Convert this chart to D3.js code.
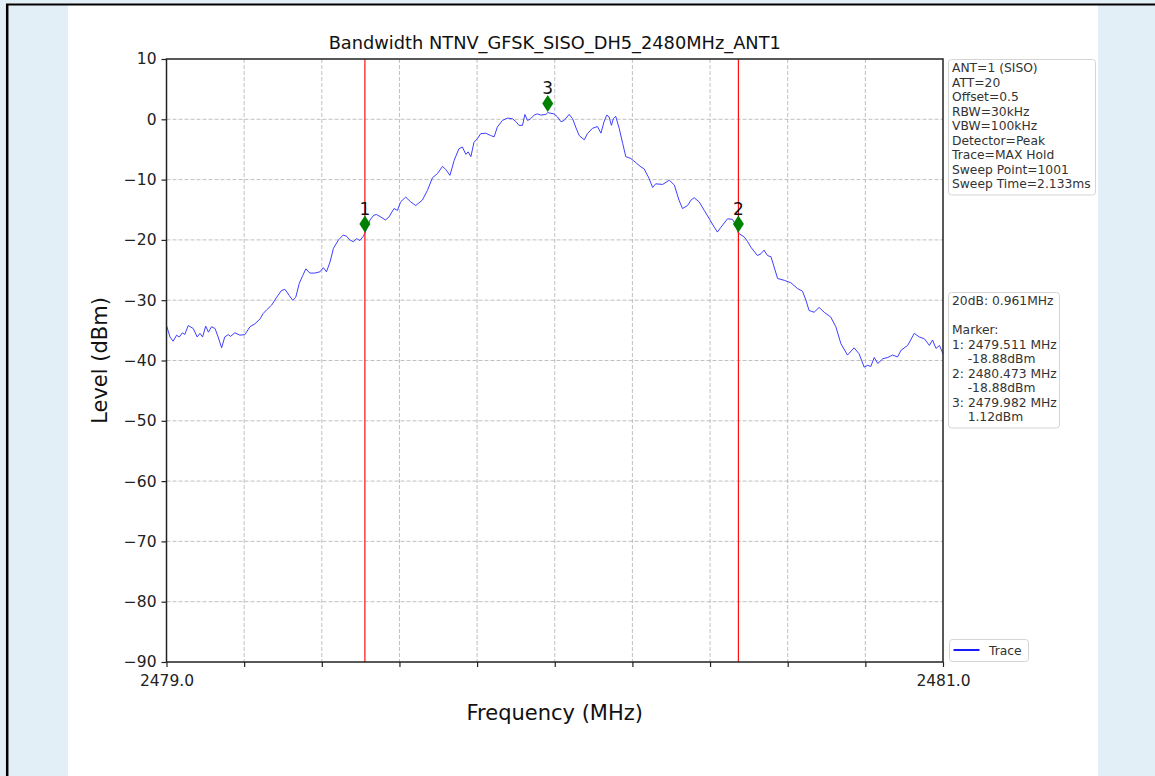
<!DOCTYPE html>
<html lang="en">
<head>
<meta charset="utf-8">
<title>Bandwidth NTNV_GFSK_SISO_DH5_2480MHz_ANT1</title>
<script src="https://d3js.org/d3.v7.min.js"></script>
<style type="text/css">
body {
	margin: 0;
	font-family: "DejaVu Sans", sans-serif;
}
</style>
</head>
<body>
<script type="text/javascript">

// Trace (MHz, dBm)
var traceFreq = [
  2479.000, 2479.009, 2479.017, 2479.026, 2479.033, 2479.041, 2479.047, 2479.056, 2479.069, 2479.079,
  2479.086, 2479.093, 2479.101, 2479.108, 2479.116, 2479.125, 2479.133, 2479.142, 2479.150, 2479.159,
  2479.165, 2479.176, 2479.189, 2479.202, 2479.215, 2479.228, 2479.241, 2479.249, 2479.258, 2479.271,
  2479.284, 2479.296, 2479.305, 2479.316, 2479.325, 2479.333, 2479.342, 2479.351, 2479.359, 2479.369,
  2479.382, 2479.395, 2479.404, 2479.412, 2479.421, 2479.430, 2479.443, 2479.455, 2479.464, 2479.472,
  2479.481, 2479.490, 2479.498, 2479.507, 2479.511, 2479.524, 2479.534, 2479.541, 2479.552, 2479.564,
  2479.573, 2479.586, 2479.595, 2479.603, 2479.616, 2479.629, 2479.642, 2479.659, 2479.672, 2479.685,
  2479.698, 2479.711, 2479.719, 2479.730, 2479.741, 2479.753, 2479.762, 2479.771, 2479.777, 2479.784,
  2479.792, 2479.801, 2479.809, 2479.822, 2479.835, 2479.844, 2479.852, 2479.865, 2479.878, 2479.891,
  2479.900, 2479.908, 2479.917, 2479.923, 2479.930, 2479.938, 2479.947, 2479.955, 2479.964, 2479.977,
  2479.982, 2479.998, 2480.007, 2480.016, 2480.024, 2480.037, 2480.046, 2480.054, 2480.063, 2480.076,
  2480.084, 2480.097, 2480.110, 2480.119, 2480.127, 2480.134, 2480.140, 2480.146, 2480.151, 2480.157,
  2480.166, 2480.175, 2480.183, 2480.196, 2480.209, 2480.222, 2480.230, 2480.243, 2480.252, 2480.260,
  2480.278, 2480.295, 2480.308, 2480.320, 2480.329, 2480.342, 2480.351, 2480.359, 2480.372, 2480.385,
  2480.398, 2480.411, 2480.419, 2480.428, 2480.445, 2480.458, 2480.467, 2480.473, 2480.488, 2480.497,
  2480.505, 2480.522, 2480.531, 2480.539, 2480.548, 2480.557, 2480.565, 2480.574, 2480.591, 2480.608,
  2480.626, 2480.638, 2480.647, 2480.655, 2480.668, 2480.681, 2480.694, 2480.711, 2480.724, 2480.737,
  2480.754, 2480.771, 2480.784, 2480.797, 2480.806, 2480.814, 2480.823, 2480.832, 2480.845, 2480.858,
  2480.870, 2480.883, 2480.892, 2480.909, 2480.926, 2480.939, 2480.952, 2480.965, 2480.973, 2480.982,
  2480.991, 2481.000
];
var traceLevel = [
  -34.2, -36.1, -36.8, -35.8, -36.1, -35.4, -35.7, -34.2, -34.7, -36.1,
  -35.5, -36.1, -34.3, -35.3, -34.4, -34.7, -36.1, -37.9, -36.1, -35.7,
  -36.0, -35.4, -35.8, -35.7, -34.4, -33.9, -33.1, -32.2, -31.6, -30.8,
  -29.5, -28.4, -28.2, -29.2, -30.0, -29.5, -27.2, -25.9, -24.8, -25.5,
  -25.5, -25.3, -24.6, -25.3, -23.7, -21.4, -20.0, -19.2, -19.4, -20.0,
  -20.3, -19.8, -20.1, -19.4, -18.9, -16.7, -15.9, -15.8, -16.2, -16.7,
  -16.2, -14.8, -15.1, -13.7, -12.9, -13.7, -14.3, -13.4, -11.8, -9.7,
  -9.0, -7.8, -8.3, -9.3, -6.8, -4.9, -4.6, -5.8, -5.4, -6.2,
  -3.8, -3.2, -2.4, -2.3, -2.7, -2.9, -1.3, -0.2, 0.2, 0.1,
  -0.4, -1.0, -1.0, 0.8, -0.2, 0.1, 0.7, 0.9, 0.7, 0.8,
  1.1, 0.9, 0.4, -0.4, -0.2, 0.8, 0.1, -1.3, -2.7, -3.4,
  -2.4, -1.5, -1.2, -2.3, -0.4, 0.7, 0.4, -1.0, 0.1, 0.5,
  -1.5, -4.0, -6.2, -6.5, -7.2, -7.9, -8.2, -9.8, -11.3, -10.7,
  -10.8, -10.1, -10.9, -13.4, -14.8, -14.3, -13.4, -13.0, -13.7, -15.1,
  -16.5, -17.9, -18.7, -17.9, -16.5, -16.6, -17.6, -18.9, -19.5, -20.3,
  -21.2, -22.6, -22.3, -21.7, -22.6, -22.8, -24.5, -26.4, -26.7, -27.1,
  -28.1, -28.5, -30.0, -31.7, -32.0, -31.2, -32.0, -32.8, -34.4, -37.2,
  -39.1, -37.9, -38.9, -41.1, -40.8, -41.0, -39.5, -40.5, -39.7, -39.5,
  -39.1, -39.4, -38.3, -37.5, -35.5, -36.1, -36.4, -37.5, -36.6, -38.0,
  -37.5, -38.9
];

// Markers
var markerNames = ["1", "2", "3"];
var markerFreq = [2479.511, 2480.473, 2479.982];
var markerLevel = [-18.88, -18.88, 1.12];
var edgeFreq = [2479.511, 2480.473];   // red lines at the 20 dB edges

// Axis ticks
var xTicks = [2479.0, 2479.2, 2479.4, 2479.6, 2479.8, 2480.0, 2480.2, 2480.4, 2480.6, 2480.8, 2481.0];
var xTickLabels = ["2479.0", "", "", "", "", "", "", "", "", "", "2481.0"];
var yTicks = [10, 0, -10, -20, -30, -40, -50, -60, -70, -80, -90];

// Text boxes
var title = "Bandwidth NTNV_GFSK_SISO_DH5_2480MHz_ANT1";
var settingsLines = ["ANT=1 (SISO)", "ATT=20", "Offset=0.5", "RBW=30kHz", "VBW=100kHz",
  "Detector=Peak", "Trace=MAX Hold", "Sweep Point=1001", "Sweep Time=2.133ms"];
var resultLines = ["20dB: 0.961MHz", "", "Marker:", "1: 2479.511 MHz", "    -18.88dBm",
  "2: 2480.473 MHz", "    -18.88dBm", "3: 2479.982 MHz", "    1.12dBm"];
var legendLabels = ["Trace"];

const width = 1155;
const height = 776;
const plotLeft = 166.5, plotRight = 943, plotTop = 59, plotBottom = 662;
const markerLift = 1.5;   // diamonds sit a little above the trace
const lineGap = 14.5;

var xScale = d3.scaleLinear().domain([2479.0, 2481.0]).range([plotLeft, plotRight]);
var yScale = d3.scaleLinear().domain([-90, 10]).range([plotBottom, plotTop]);

var svg = d3.select("body")
  .append("svg")
  .attr("width", width)
  .attr("height", height);

// page background: blue margins, white sheet, black frame
svg.append("rect").attr("width", width).attr("height", height).style("fill", "#e3eff6");
svg.append("rect").attr("x", 68).attr("y", 5).attr("width", 1030).attr("height", height - 5).style("fill", "#fff");
svg.append("line").attr("x1", 6).attr("x2", width).attr("y1", 4.5).attr("y2", 4.5)
  .style("stroke", "#000").style("stroke-width", 2);
svg.append("line").attr("x1", 7.2).attr("x2", 7.2).attr("y1", 4).attr("y2", height)
  .style("stroke", "#000").style("stroke-width", 2.5);

// grid
var grid = svg.append("g")
  .attr("stroke", "#b0b0b0")
  .attr("stroke-width", 0.8)
  .attr("stroke-dasharray", "4,2");
grid.selectAll(".gx")
  .data(xTicks.slice(1, -1))
  .enter().append("line")
  .attr("class", "gx")
  .attr("x1", function(d) { return xScale(d); })
  .attr("x2", function(d) { return xScale(d); })
  .attr("y1", plotTop).attr("y2", plotBottom);
grid.selectAll(".gy")
  .data(yTicks.slice(1, -1))
  .enter().append("line")
  .attr("class", "gy")
  .attr("y1", function(d) { return yScale(d); })
  .attr("y2", function(d) { return yScale(d); })
  .attr("x1", plotLeft).attr("x2", plotRight);

// trace
var line = d3.line()
  .x(function(d, i) { return xScale(traceFreq[i]); })
  .y(function(d) { return yScale(d); });

svg.append("path")
  .datum(traceLevel)
  .attr("d", line)
  .attr("fill", "none")
  .attr("stroke", "#3f3fff")
  .attr("stroke-width", 1);

// red edge lines (slightly over 1px so they stay red once antialiased)
svg.append("g").selectAll(".edge")
  .data(edgeFreq)
  .enter().append("rect")
  .attr("class", "edge")
  .attr("x", function(d) { return xScale(d) - 0.6; })
  .attr("width", 1.2)
  .attr("y", plotTop)
  .attr("height", plotBottom - plotTop)
  .attr("fill", "#ff1010");

// markers
var marker = svg.append("g").selectAll(".marker")
  .data(markerNames)
  .enter().append("g")
  .attr("class", "marker")
  .attr("transform", function(d, i) {
    return "translate(" + xScale(markerFreq[i]) + "," + yScale(markerLevel[i] + markerLift) + ")";
  });
marker.append("path")
  .attr("d", "M0,-8.5L5.5,0L0,8.5L-5.5,0Z")
  .attr("fill", "#008000");
marker.append("text")
  .attr("y", -9.5)
  .attr("text-anchor", "middle")
  .style("font-size", "17px")
  .style("fill", "#111")
  .text(function(d) { return d; });

// axes
var xAxis = d3.axisBottom(xScale)
  .tickValues(xTicks)
  .tickSize(5)
  .tickPadding(8)
  .tickFormat(function(d, i) { return xTickLabels[i]; });
var yAxis = d3.axisLeft(yScale)
  .tickValues(yTicks)
  .tickSize(5)
  .tickPadding(5)
  .tickFormat(function(d) { return d3.format("d")(d).replace("-", "\u2212"); });

var gx = svg.append("g").attr("transform", "translate(0," + plotBottom + ")").call(xAxis);
var gy = svg.append("g").attr("transform", "translate(" + plotLeft + ",0)").call(yAxis);
[gx, gy].forEach(function(g) {
  g.select(".domain").remove();
  g.selectAll(".tick line").attr("stroke", "#222").attr("stroke-width", 1.2);
  g.selectAll(".tick text")
    .style("font-family", "DejaVu Sans")
    .style("font-size", "15.5px")
    .style("fill", "#222");
});

// frame around the plot
svg.append("rect")
  .attr("x", plotLeft).attr("y", plotTop)
  .attr("width", plotRight - plotLeft).attr("height", plotBottom - plotTop)
  .attr("fill", "none")
  .attr("stroke", "#222")
  .attr("stroke-width", 1.5);

// titles
svg.append("text")
  .attr("x", (plotLeft + plotRight) / 2).attr("y", 49)
  .attr("text-anchor", "middle")
  .style("font-size", "17.8px")
  .style("fill", "#111")
  .text(title);
svg.append("text")
  .attr("x", (plotLeft + plotRight) / 2).attr("y", 720)
  .attr("text-anchor", "middle")
  .style("font-size", "21px")
  .style("fill", "#111")
  .text("Frequency (MHz)");
svg.append("text")
  .attr("transform", "translate(107," + (plotTop + plotBottom) / 2 + ") rotate(-90)")
  .attr("text-anchor", "middle")
  .style("font-size", "21px")
  .style("fill", "#111")
  .text("Level (dBm)");

// side boxes
function textBox(x, y, w, lines) {
  var g = svg.append("g").attr("transform", "translate(" + x + "," + y + ")");
  g.append("rect")
    .attr("width", w).attr("height", lines.length * lineGap + 5)
    .attr("rx", 3)
    .attr("fill", "#fff")
    .attr("stroke", "#d5d5d5")
    .attr("stroke-width", 1);
  g.selectAll("text")
    .data(lines)
    .enter().append("text")
    .attr("x", 3.5)
    .attr("y", function(d, i) { return 12.5 + i * lineGap; })
    .style("font-size", "12.3px")
    .style("fill", "#333")
    .style("white-space", "pre")
    .attr("xml:space", "preserve")
    .text(function(d) { return d; });
}
textBox(948.5, 59.5, 147, settingsLines);
textBox(948.5, 292.5, 111, resultLines);

// legend
var legend = svg.append("g").attr("transform", "translate(949.5,639.5)");
legend.append("rect")
  .attr("width", 79).attr("height", 22).attr("rx", 3)
  .attr("fill", "#fff").attr("stroke", "#d5d5d5");
legend.selectAll(".key")
  .data(legendLabels)
  .enter().append("line")
  .attr("class", "key")
  .attr("x1", 4).attr("x2", 30).attr("y1", 10.5).attr("y2", 10.5)
  .attr("stroke", "#0000ff").attr("stroke-width", 1.8);
legend.selectAll(".label")
  .data(legendLabels)
  .enter().append("text")
  .attr("class", "label")
  .attr("x", 39.5).attr("y", 15)
  .style("font-size", "12.3px")
  .style("fill", "#333")
  .text(function(d) { return d; });

</script>
</body>
</html>
